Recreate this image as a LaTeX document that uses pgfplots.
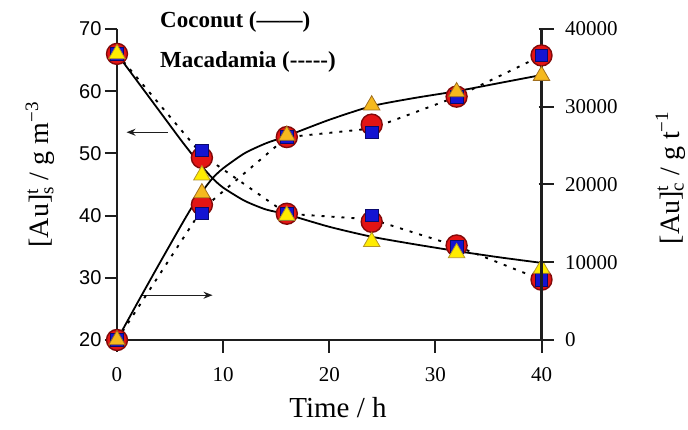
\documentclass[border=0pt]{standalone}
\usepackage{pgfplots}
\pgfplotsset{compat=1.18}
\usepackage{fontspec}
\setmainfont{Liberation Serif}
\newfontfamily\tickSans{Liberation Sans}
\usetikzlibrary{arrows.meta}
\definecolor{cred}{RGB}{228,20,20}
\definecolor{cdred}{RGB}{130,10,10}
\definecolor{cblue}{RGB}{20,20,210}
\definecolor{cdblue}{RGB}{10,10,110}
\definecolor{cyel}{RGB}{255,236,0}
\definecolor{cyeledge}{RGB}{180,150,40}
\definecolor{corange}{RGB}{245,185,30}
\definecolor{coredge}{RGB}{160,110,30}
\definecolor{axcol}{RGB}{30,30,30}
\pgfplotsset{
  circ/.style={only marks, mark=*, mark size=10.5pt, mark options={fill=cred, draw=cdred, line width=1.4pt}},
  sq/.style={only marks, mark=square*, mark size=6.3pt, mark options={fill=cblue, draw=cdblue, line width=0.8pt}},
  triY/.style={only marks, mark=triangle*, mark size=9.5pt, mark options={fill=cyel, draw=cyeledge, line width=0.8pt}},
  triO/.style={only marks, mark=triangle*, mark size=9.5pt, mark options={fill=corange, draw=coredge, line width=0.8pt}},
  coco/.style={no marks, black, line width=1.8pt, smooth, tension=0.4},
  maca/.style={no marks, black, line width=1.9pt, dash pattern=on 3pt off 7pt},
}
\begin{document}
\begin{tikzpicture}
\path[use as bounding box] (-117pt,-90pt) rectangle (571pt,340pt);
% frame lines and ticks (drawn underneath the plots)
\draw[axcol, line width=2.2pt] (0,311pt) -- (0,0) -- (436pt,0);
\draw[axcol, line width=2.2pt] (424.5pt,0) -- (424.5pt,311pt);
\foreach \k in {0,...,5} \draw[axcol, line width=2pt] (-12pt,{\k*62.2pt}) -- (0,{\k*62.2pt});
\foreach \k in {1,...,4} \draw[axcol, line width=2pt] ({\k*106.125pt},0) -- ({\k*106.125pt},-13pt);
\foreach \k in {0,...,4} \draw[axcol, line width=2pt] (421.5pt,{\k*77.75pt}) -- (436.5pt,{\k*77.75pt});
% left axis: solution concentration
\begin{axis}[
  scale only axis, width=424.5pt, height=311pt, clip=false,
  xmin=0, xmax=40, ymin=20, ymax=70,
  axis lines*=left,
  axis line style={axcol, line width=2.2pt},
  tick style={axcol, line width=2pt},
  major tick length=12pt, tick align=outside,
  xtick={0,10,20,30,40}, ytick={20,30,40,50,60,70},
  xticklabel style={font=\fontsize{21}{21}\selectfont, yshift=-12pt},
  yticklabel style={font=\tickSans\fontsize{20}{20}\selectfont},
  /pgf/number format/assume math mode=true,
]
\addplot[coco] coordinates {(0,66) (2,61.4) (4,56.8) (6,52.2) (7,50.0) (8,47.9) (9,46.0) (10,44.5) (12,42.4) (14,41.0) (16,40.2) (20,38.2) (24,36.6) (28,35.4) (32,34.3) (36,33.3) (40,32.4)};
\addplot[maca] coordinates {(0,66) (8,49.8) (16,40.3) (24,39.4) (32,35.1) (40,29.7)};
\addplot[circ] coordinates {(0,66) (8,49.3) (16,40.3) (24,39.0) (32,35.2) (40,29.7)};
\addplot[sq] coordinates {(0,66) (8,50.5) (16,40.3) (24,40.0) (32,35.0) (40,29.7)};
\addplot[triY] coordinates {(0,66) (8,46.5) (16,40.0) (24,35.8) (32,34.0) (40,31.5)};
\draw[axcol, line width=1.1pt, -{Stealth[length=9pt,width=7pt]}] (axis cs:4.8,53.4) -- (axis cs:0.9,53.4);
\draw[axcol, line width=1.1pt, -{Stealth[length=9pt,width=7pt]}] (axis cs:2.4,27.2) -- (axis cs:9.0,27.2);
\end{axis}
% right axis: carbon loading
\begin{axis}[
  scale only axis, width=424.5pt, height=311pt, clip=false,
  xmin=0, xmax=40, ymin=0, ymax=40000,
  axis x line=none, axis y line*=right,
  axis line style={axcol, line width=2.2pt},
  tick style={axcol, line width=2pt},
  major tick length=12pt, tick align=outside,
  ytick={0,10000,20000,30000,40000},
  scaled y ticks=false,
  yticklabel style={font=\fontsize{21}{21}\selectfont, xshift=8pt},
  /pgf/number format/set thousands separator={},
  /pgf/number format/assume math mode=true,
]
\addplot[coco] coordinates {(0,0) (2,4960) (4,9840) (6,14640) (7,16960) (8,19040) (9,20800) (10,22080) (12,24000) (14,25280) (16,26240) (20,28320) (24,30080) (28,31120) (32,32000) (36,33040) (40,34080)};
\addplot[maca] coordinates {(0,0) (8,16800) (16,26080) (24,27200) (32,31280) (40,36560)};
\addplot[circ] coordinates {(0,0) (8,17400) (16,26100) (24,27700) (32,31300) (40,36600)};
\addplot[sq] coordinates {(0,0) (8,16300) (16,26100) (24,26700) (32,31300) (40,36600)};
\addplot[triO] coordinates {(0,0) (8,18900) (16,26300) (24,30200) (32,31900) (40,34000)};
\end{axis}
\node[anchor=base, inner sep=0pt, font=\fontsize{29}{29}\selectfont] at (221pt,-78pt) {Time / h};
\node[anchor=base, inner sep=0pt, rotate=90, font=\fontsize{28}{28}\selectfont] at (-68pt,165pt)
  {[Au]\rlap{\raisebox{0.85ex}{\fontsize{19}{19}\selectfont t}}\raisebox{-0.35ex}{\fontsize{19}{19}\selectfont s} / g m\raisebox{0.85ex}{\fontsize{19}{19}\selectfont −3}};
\node[anchor=base, inner sep=0pt, rotate=90, font=\fontsize{28}{28}\selectfont] at (562pt,162pt)
  {[Au]\rlap{\raisebox{0.85ex}{\fontsize{19}{19}\selectfont t}}\raisebox{-0.35ex}{\fontsize{19}{19}\selectfont c} / g t\raisebox{0.85ex}{\fontsize{19}{19}\selectfont −1}};
\node[anchor=base west, inner sep=0pt, font=\bfseries\fontsize{23}{23}\selectfont] at (43pt,312pt) {Coconut (---{}---)};
\node[anchor=base west, inner sep=0pt, font=\bfseries\fontsize{23}{23}\selectfont] at (43pt,272pt) {Macadamia (-{}-{}-{}-{}-)};
\end{tikzpicture}
\end{document}
